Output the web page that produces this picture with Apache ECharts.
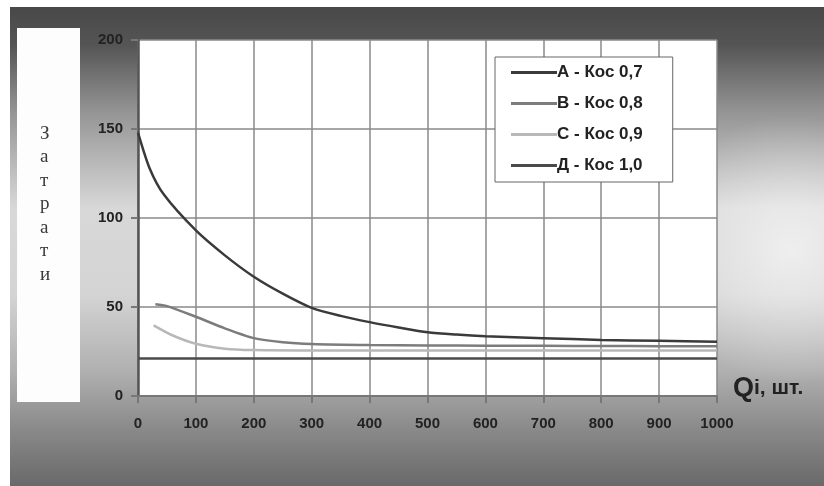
<!DOCTYPE html>
<html><head><meta charset="utf-8">
<script src="https://cdn.jsdelivr.net/npm/echarts@6/dist/echarts.min.js"></script>
<style>html,body{margin:0;padding:0;background:#fff}#c{width:824px;height:486px}</style>
</head><body><div id="c"></div>
<script>
// ---- data ----
const seriesNames = ['А - Кос 0,7', 'В - Кос 0,8', 'С - Кос 0,9', 'Д - Кос 1,0'];
const qA = [0, 20, 45, 100, 150, 200, 250, 300, 350, 400, 450, 500, 550, 600, 700, 800, 900, 1000];
const costA = [148, 128, 113, 93, 79, 67, 57.5, 49.5, 45, 41.5, 38.5, 35.8, 34.5, 33.6, 32.5, 31.5, 31, 30.5];
const qB = [30, 50, 100, 150, 200, 250, 300, 400, 500, 600, 700, 800, 900, 1000];
const costB = [51.5, 50.5, 44.5, 38, 32.5, 30.2, 29.2, 28.6, 28.4, 28.3, 28.2, 28.1, 28, 28];
const qC = [27, 60, 100, 150, 200, 300, 400, 500, 600, 700, 800, 900, 1000];
const costC = [39.7, 34, 29.4, 26.6, 25.8, 25.6, 25.5, 25.5, 25.5, 25.5, 25.5, 25.5, 25.5];
const qD = [0, 1000];
const costD = [21, 21];
const xTicks = [0, 100, 200, 300, 400, 500, 600, 700, 800, 900, 1000];
const yTicks = [0, 50, 100, 150, 200];
const yTitle = 'Затрати';
const xTitle = ['Q', 'i, шт.'];

const colors = ['#3a3a3a', '#7c7c7c', '#b8b8b8', '#4a4a4a'];
const pairs = (xs, ys) => xs.map((x, i) => [x, ys[i]]);
const allData = [pairs(qA, costA), pairs(qB, costB), pairs(qC, costC), pairs(qD, costD)];

const chart = echarts.init(document.getElementById('c'));
const font = 'Liberation Sans, Arial, sans-serif';
chart.setOption({
  animation: false,
  graphic: [
    { type: 'rect', z: -100, shape: { x: 10, y: 7, width: 814, height: 479 },
      style: { fill: new echarts.graphic.LinearGradient(0, 0, 0, 1, [
        { offset: 0, color: '#484848' }, { offset: 0.08, color: '#555' },
        { offset: 0.22, color: '#959595' }, { offset: 0.42, color: '#d8d8d8' },
        { offset: 0.6, color: '#d4d4d4' }, { offset: 0.76, color: '#b0b0b0' },
        { offset: 0.88, color: '#8a8a8a' }, { offset: 1, color: '#696969' }]) } },
    { type: 'rect', z: -90, shape: { x: 600, y: 60, width: 224, height: 380 },
      style: { fill: new echarts.graphic.RadialGradient(0.85, 0.5, 0.6, [
        { offset: 0, color: 'rgba(255,255,255,0.6)' }, { offset: 1, color: 'rgba(255,255,255,0)' }]) } },
    { type: 'rect', z: -80, shape: { x: 17, y: 28, width: 63, height: 374 }, style: { fill: '#fdfdfd' } },
    { type: 'text', z: 10, left: 40, top: 122,
      style: { text: yTitle.split('').join('\n'), font: '19px "Liberation Serif", serif', fill: '#3a3a3a', lineHeight: 23.5, align: 'center' } },
    { type: 'text', z: 10, left: 733, top: 375,
      style: { rich: { q: { fontSize: 27, fontFamily: font, fill: '#222', fontWeight: 'bold' }, s: { fontSize: 21, fontFamily: font, fill: '#222', fontWeight: 'bold' } },
        text: '{q|' + xTitle[0] + '}{s|' + xTitle[1] + '}' } }
  ],
  grid: { left: 138, right: 107, top: 40, bottom: 90, show: true, backgroundColor: '#fff', borderWidth: 0 },
  legend: {
    orient: 'vertical', left: 495, top: 57, data: seriesNames,
    icon: 'rect', padding: [7, 30, 8, 16], itemGap: 14, itemWidth: 46, itemHeight: 3,
    backgroundColor: '#fff', borderColor: '#666', borderWidth: 1, borderRadius: 0,
    textStyle: { fontFamily: font, fontWeight: 'bold', fontSize: 17, color: '#222', padding: [0, 0, 0, -5] }
  },
  xAxis: {
    type: 'value', min: xTicks[0], max: xTicks[xTicks.length - 1], interval: 100,
    axisLine: { show: true, onZero: false, lineStyle: { color: '#777', width: 2 } },
    axisTick: { show: true, length: 7, lineStyle: { color: '#777', width: 2 } },
    axisLabel: { margin: 20, fontFamily: font, fontWeight: 'bold', fontSize: 15, color: '#222', formatter: v => String(v) },
    splitLine: { show: true, lineStyle: { color: '#8a8a8a', width: 1.5 } }
  },
  yAxis: {
    type: 'value', min: yTicks[0], max: yTicks[yTicks.length - 1], interval: 50,
    axisLine: { show: true, lineStyle: { color: '#555', width: 2.5 } },
    axisTick: { show: true, length: 7, lineStyle: { color: '#777', width: 2 } },
    axisLabel: { margin: 15, fontFamily: font, fontWeight: 'bold', fontSize: 15, color: '#222', formatter: v => String(v) },
    splitLine: { show: true, lineStyle: { color: '#8a8a8a', width: 1.5 } }
  },
  series: seriesNames.map((n, i) => ({
    name: n, type: 'line', data: allData[i], symbol: 'none', smooth: 0.25,
    color: colors[i], lineStyle: { color: colors[i], width: 2.5 }, z: i === 0 ? 5 : 3
  }))
});
</script></body></html>
